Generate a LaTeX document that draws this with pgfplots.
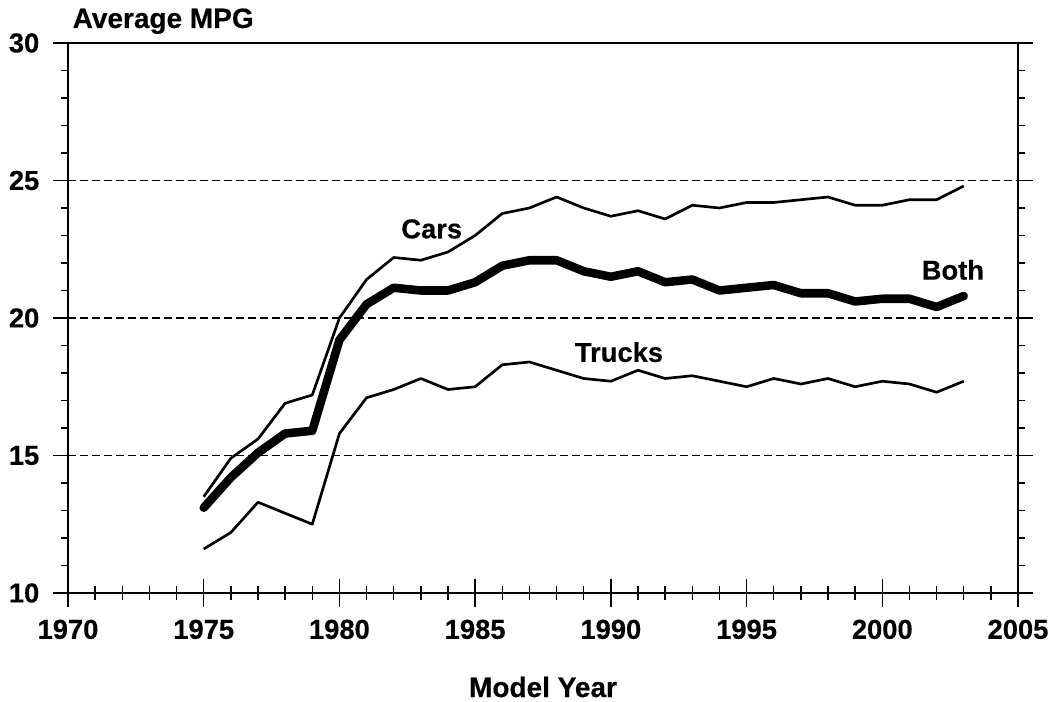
\documentclass[border=0pt]{standalone}
\usepackage{fontspec}
\setmainfont{Liberation Sans}[BoldFeatures={FakeBold=0.4}]
\usepackage{pgfplots}
\pgfplotsset{compat=1.18}
\newcommand{\lf}{\fontsize{20.5}{24}\selectfont\bfseries}
\newcommand{\tf}{\fontsize{21}{24}\selectfont\bfseries}
\pgfplotsset{base/.style={
  width=712.5pt,height=412.5pt,scale only axis,
  xmin=1970,xmax=2005,ymin=10,ymax=30,
  axis line style={line width=1.2pt},
  every tick/.style={black,line width=1pt},
  /pgf/number format/assume math mode=true,
  /pgf/number format/1000 sep={},
  tick label style={font=\lf},
}}
\begin{document}
\begin{tikzpicture}
% axis for x ticks (centered ticks)
\begin{axis}[base,
  tick align=center,
  xtick={1970,1975,...,2005},
  minor x tick num=4,
  xtick pos=left,
  ytick=\empty,
  major tick length=21pt,
  minor tick length=11pt,
  xticklabel style={yshift=-6pt},
]
\addplot[draw=none] coordinates {(1970,10)};
\end{axis}
% main axis with y ticks and data
\begin{axis}[base,
  tick align=outside,
  ytick={10,15,...,30},
  minor y tick num=4,
  ytick pos=both,
  xtick=\empty,
  major tick length=11pt,
  minor tick length=5.5pt,
  ymajorgrids,
  major grid style={black,line width=1.1pt,dash pattern=on 6pt off 3pt},
  yticklabel style={xshift=-7pt},
  clip=false,
]
\addplot[black,line width=2pt,line join=round] coordinates {
(1975,13.5)(1976,14.9)(1977,15.6)(1978,16.9)(1979,17.2)(1980,20.0)
(1981,21.4)(1982,22.2)(1983,22.1)(1984,22.4)(1985,23.0)(1986,23.8)
(1987,24.0)(1988,24.4)(1989,24.0)(1990,23.7)(1991,23.9)(1992,23.6)
(1993,24.1)(1994,24.0)(1995,24.2)(1996,24.2)(1997,24.3)(1998,24.4)
(1999,24.1)(2000,24.1)(2001,24.3)(2002,24.3)(2003,24.8)};
\addplot[black,line width=2pt,line join=round] coordinates {
(1975,11.6)(1976,12.2)(1977,13.3)(1978,12.9)(1979,12.5)(1980,15.8)
(1981,17.1)(1982,17.4)(1983,17.8)(1984,17.4)(1985,17.5)(1986,18.3)
(1987,18.4)(1988,18.1)(1989,17.8)(1990,17.7)(1991,18.1)(1992,17.8)
(1993,17.9)(1994,17.7)(1995,17.5)(1996,17.8)(1997,17.6)(1998,17.8)
(1999,17.5)(2000,17.7)(2001,17.6)(2002,17.3)(2003,17.7)};
\addplot[black,line width=6.4pt,line join=round,line cap=round] coordinates {
(1975,13.1)(1976,14.2)(1977,15.1)(1978,15.8)(1979,15.9)(1980,19.2)
(1981,20.5)(1982,21.1)(1983,21.0)(1984,21.0)(1985,21.3)(1986,21.9)
(1987,22.1)(1988,22.1)(1989,21.7)(1990,21.5)(1991,21.7)(1992,21.3)
(1993,21.4)(1994,21.0)(1995,21.1)(1996,21.2)(1997,20.9)(1998,20.9)
(1999,20.6)(2000,20.7)(2001,20.7)(2002,20.4)(2003,20.8)};
\node[font=\lf] at (axis cs:1983.4,23.24) {Cars};
\node[font=\lf] at (axis cs:1990.3,18.76) {Trucks};
\node[font=\lf] at (axis cs:2002.6,21.75) {Both};
\node[font=\tf,anchor=base west] at ([yshift=11.25pt]rel axis cs:0,1) {Average MPG};
\node[font=\tf,anchor=base] at ([yshift=-78pt]rel axis cs:0.5,0) {Model Year};
\coordinate (ll) at (rel axis cs:0,0);
\coordinate (ur) at (rel axis cs:1,1);
\end{axis}
\pgfresetboundingbox
\path ([shift={(-51pt,-81.75pt)}]ll) rectangle ([shift={(25.5pt,32.25pt)}]ur);
\end{tikzpicture}
\end{document}
